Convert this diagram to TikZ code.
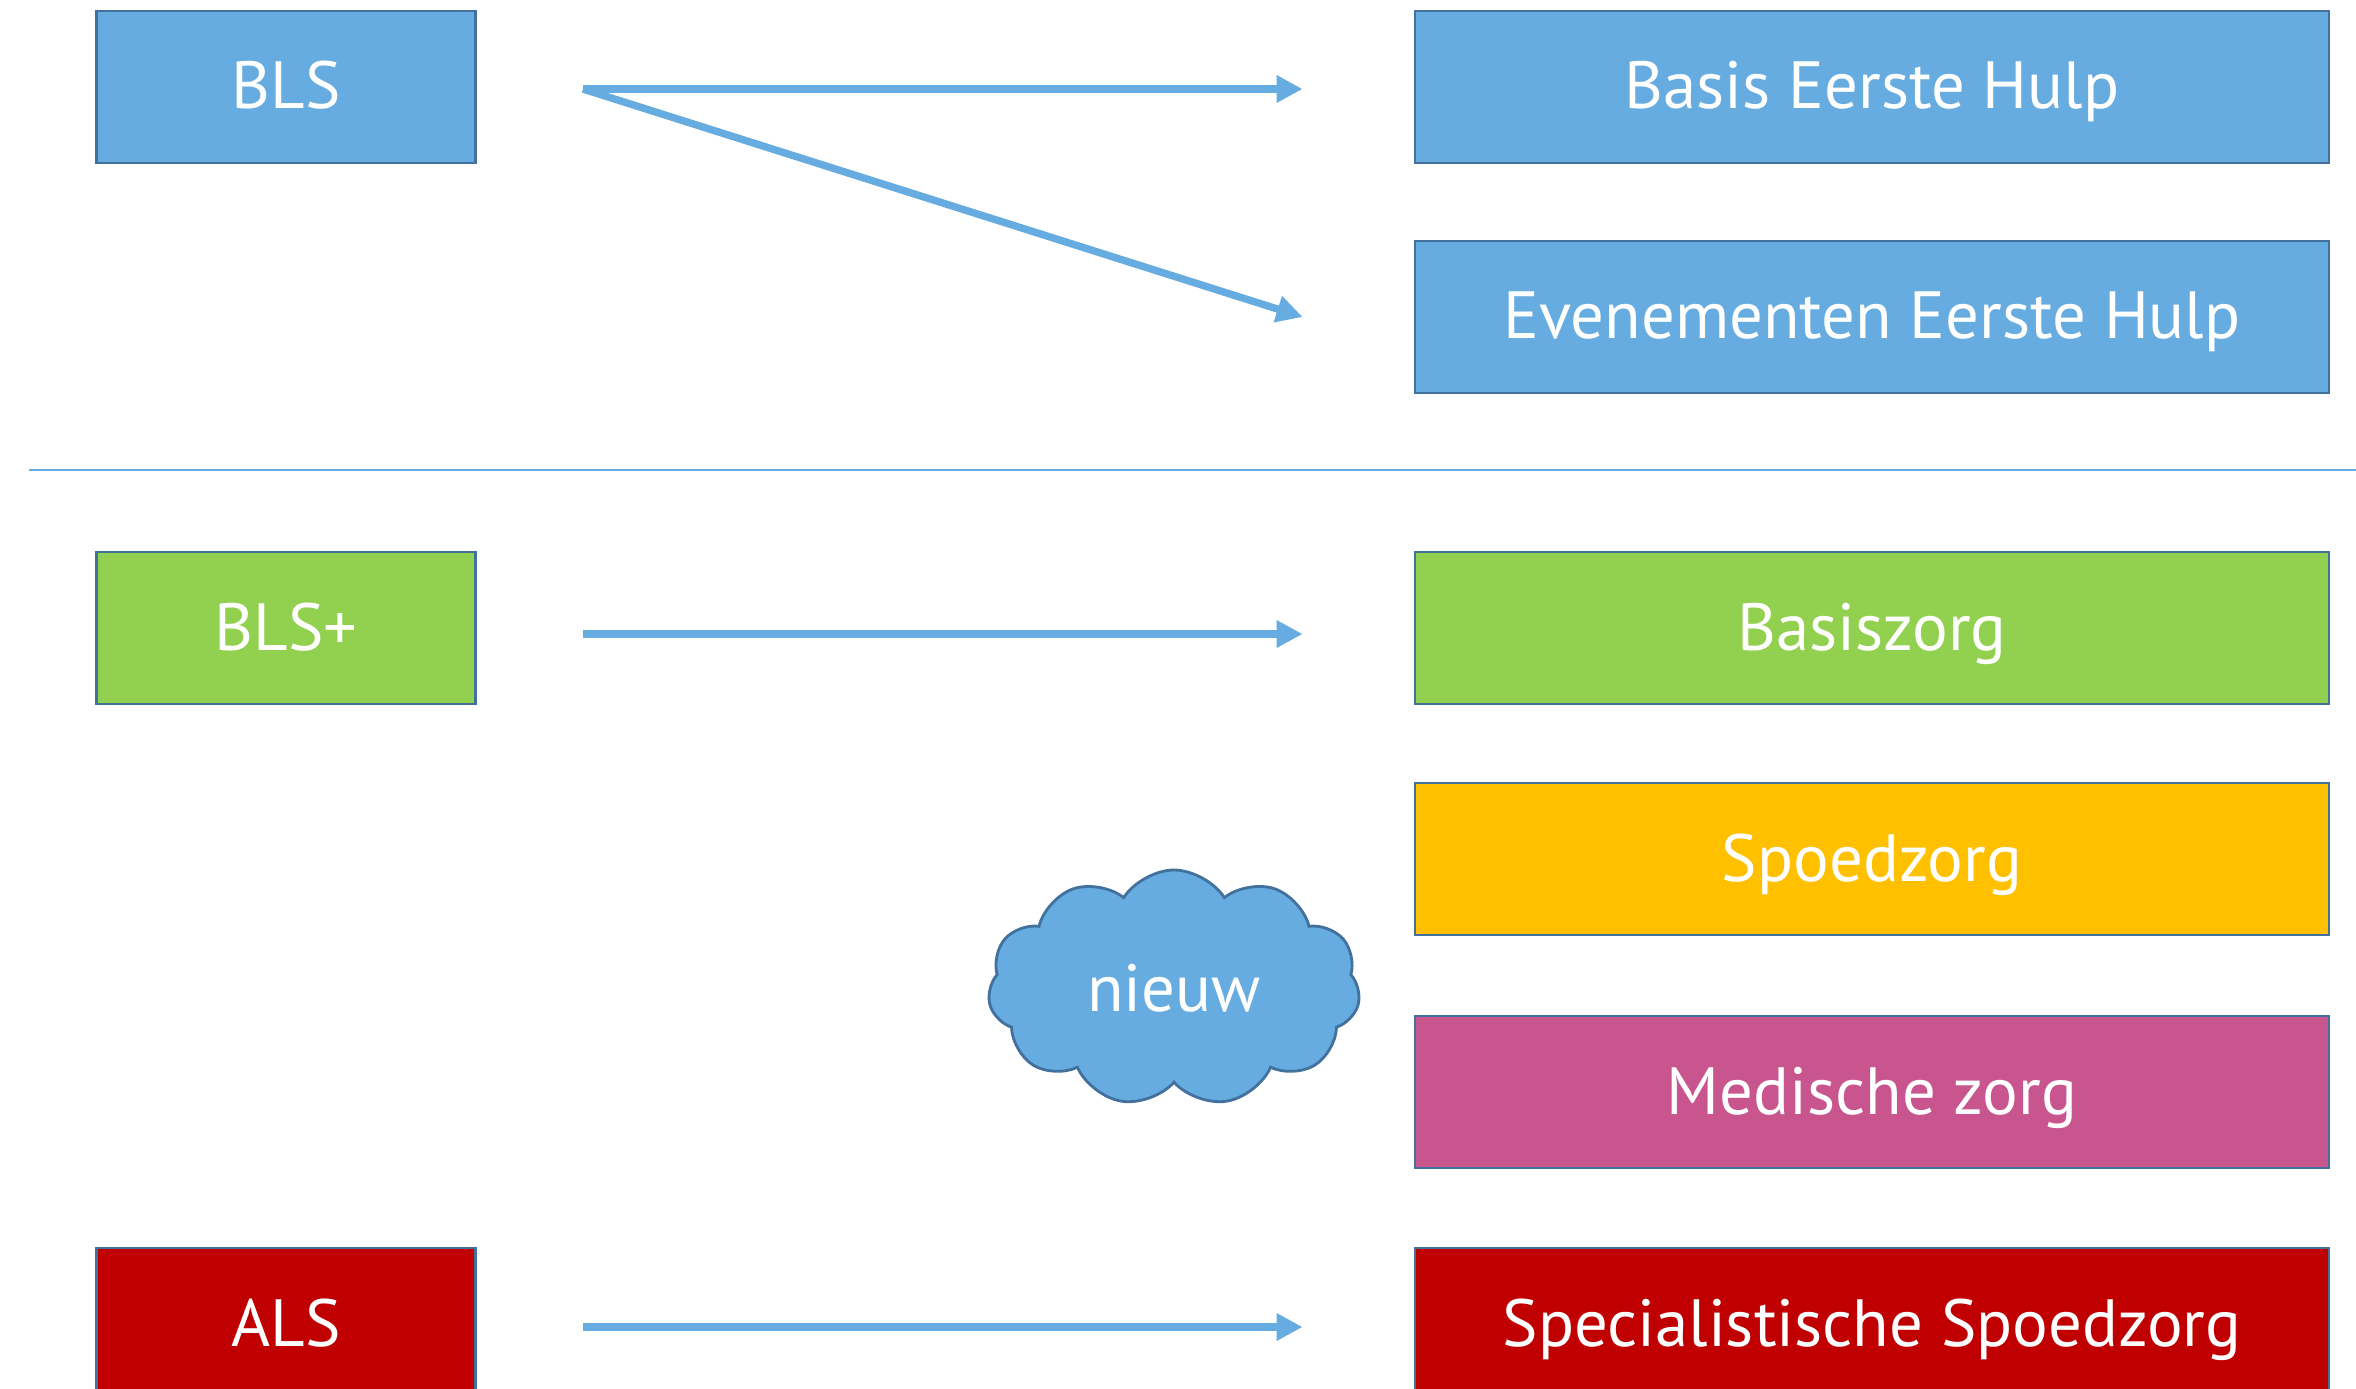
\documentclass[tikz,border=0pt]{standalone}
\usepackage{fontspec}
\setmainfont{PT Sans}
\usepackage{xcolor}
\usepackage{tikz}
\usetikzlibrary{arrows.meta,shapes.symbols,positioning}
\definecolor{pblue}{HTML}{66ACE0}
\definecolor{pedge}{HTML}{41719C}
\definecolor{pgreen}{HTML}{92D050}
\definecolor{pgold}{HTML}{FFC000}
\definecolor{ppink}{HTML}{C9558F}
\definecolor{pred}{HTML}{C00000}
\tikzstyle{lbox} = [rectangle, draw=pedge, line width=0.8pt, text=white,
    minimum width=3.79cm, minimum height=1.52cm, inner sep=0pt,
    text height=0.62cm, text depth=0.18cm]
\tikzstyle{rbox} = [rectangle, draw=pedge, line width=0.8pt, text=white,
    minimum width=9.14cm, minimum height=1.52cm, inner sep=0pt,
    text height=0.62cm, text depth=0.18cm]
\tikzstyle{line} = [draw=pblue, line width=2.1pt, -{Triangle[length=0.26cm,width=0.26cm]}]
\tikzstyle{puff} = [draw=pedge, line width=0.8pt, fill=pblue, cloud, cloud puffs=11,
    cloud puff arc=115, aspect=1.6, text=white, inner sep=0pt]

\begin{document}
\begin{tikzpicture}[node distance = 15.86cm, auto]
\tikzstyle{every node}=[font=\fontsize{19}{23}\selectfont]
    \useasboundingbox (0,0) rectangle (23.56,-13.89);
    % linkerkolom
    \node [lbox, fill=pblue] (bls) at (2.86,-0.87) {BLS};
    \node [lbox, fill=pgreen] (blsplus) at (2.86,-6.28) {BLS+};
    \node [lbox, fill=pred] (als) at (2.86,-13.24) {ALS};
    % rechterkolom
    \node [rbox, fill=pblue, right of=bls] (beh) {Basis Eerste Hulp};
    \node [rbox, fill=pblue, below of=beh, node distance=2.30cm] (eeh) {Evenementen Eerste Hulp};
    \node [rbox, fill=pgreen, right of=blsplus] (basis) {Basiszorg};
    \node [rbox, fill=pgold, below of=basis, node distance=2.31cm] (spoed) {Spoedzorg};
    \node [rbox, fill=ppink, below of=spoed, node distance=2.33cm] (medisch) {Medische zorg};
    \node [rbox, fill=pred, right of=als] (sspoed) {Specialistische Spoedzorg};
    % wolk
    \node [puff, minimum width=3.72cm, minimum height=2.36cm] (nieuw) at (11.74,-9.88) {nieuw};
    % scheidingslijn
    \draw [pblue, line width=0.6pt] (0.29,-4.70) -- (23.56,-4.70);
    % pijlen
    \coordinate [right=1.06cm of bls.east, yshift=-0.02cm] (blsout);
    \coordinate [left=1.11cm of eeh.west] (eehin);
    \path [line] (blsout) -- (blsout -| eehin);
    \path [line] (blsout) -- (eehin);
    \path [line] ([xshift=1.06cm, yshift=-0.06cm]blsplus.east) -- ([xshift=-1.11cm, yshift=-0.06cm]basis.west);
    \path [line] ([xshift=1.06cm, yshift=-0.03cm]als.east) -- ([xshift=-1.11cm, yshift=-0.03cm]sspoed.west);
\end{tikzpicture}
\end{document}
